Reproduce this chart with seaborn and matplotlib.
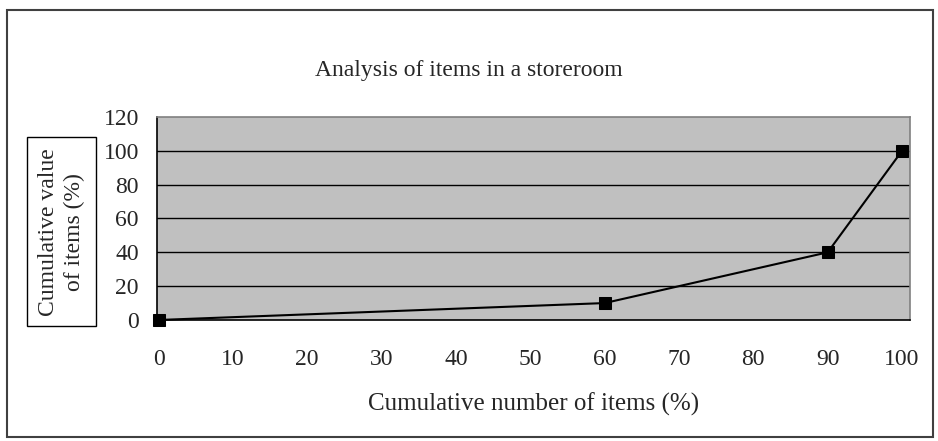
import pandas as pd
import matplotlib
matplotlib.use('Agg')
import matplotlib.pyplot as plt
import seaborn as sns
from matplotlib.patches import Rectangle

# Daten
items_pct = [0, 60, 90, 100]
value_pct = [0, 10, 40, 100]
x_ticks = [0, 10, 20, 30, 40, 50, 60, 70, 80, 90, 100]
y_ticks = [0, 20, 40, 60, 80, 100, 120]

df = pd.DataFrame({'items': items_pct, 'value': value_pct})

sns.set_style('white')
plt.rcParams['font.family'] = ['Liberation Serif', 'DejaVu Serif']

fig = plt.figure(figsize=(9.38, 4.41), dpi=100)
ax = fig.add_axes([0.1674, 0.2744, 0.803, 0.4603])

sns.lineplot(data=df, x='items', y='value', ax=ax, color='black', lw=1.5,
             marker='s', markersize=9, markeredgecolor='black', markerfacecolor='black',
             clip_on=False, zorder=5)

ax.set_facecolor('#c0c0c0')
ax.set_xlim(-0.2, 101.1)
ax.set_ylim(0, 120)
ax.set_xticks(x_ticks)
ax.set_yticks(y_ticks)
ax.tick_params(labelsize=17, direction='out', length=7, width=1, color='black')
ax.tick_params(axis='x', pad=14)
ax.tick_params(axis='y', pad=6)
for y in y_ticks[1:-1]:
    ax.axhline(y, color='black', lw=1, zorder=1)
ax.spines['top'].set_color('#808080')
ax.spines['right'].set_color('#808080')
ax.spines['left'].set_color('black')
ax.spines['bottom'].set_color('black')
for s in ax.spines.values():
    s.set_linewidth(1.2)

ax.set_xlabel('Cumulative number of items (%)', fontsize=18, labelpad=16)
ax.set_ylabel('')

# Y-Beschriftung im Kasten
fig.text(0.0656, 0.474, 'Cumulative value\nof items (%)', rotation=90, fontsize=17,
         ha='center', va='center', linespacing=1.35,
         bbox=dict(boxstyle='square,pad=0.45', facecolor='white', edgecolor='black', lw=1))

fig.text(0.5, 0.84, 'Analysis of items in a storeroom', fontsize=17, ha='center', va='center')

# Rahmen um die Figur
fig.patches.append(Rectangle((7 / 938, 4 / 441), 926 / 938, 427 / 441, transform=fig.transFigure,
                             fill=False, edgecolor='#404040', lw=1.5))

fig.savefig('out.png', dpi=100)
